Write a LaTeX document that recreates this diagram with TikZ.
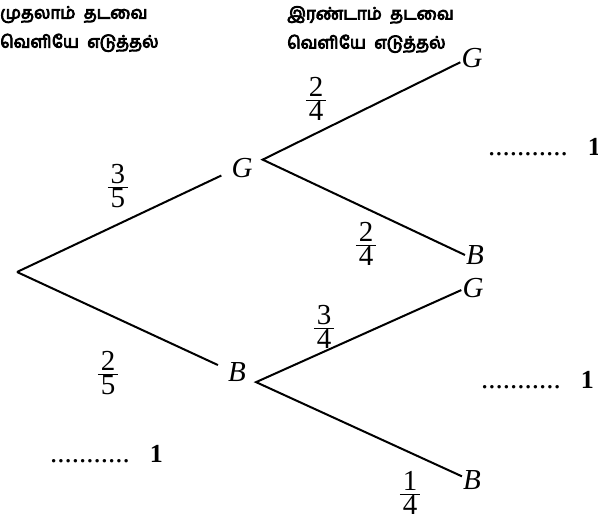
\documentclass[tikz,border=0pt]{standalone}
\usepackage{fontspec}
\setmainfont{Liberation Serif}
\newfontfamily\tamil[Script=Tamil,FakeBold=5]{Hind Madurai}
\newcommand\frc[2]{$\frac{\mbox{\kern3pt#1\kern3pt}}{\mbox{#2}}$}
\newcommand\blank{...........\hspace{20pt}{\fontsize{26}{30}\selectfont\textbf{1}}}
\begin{document}
\begin{tikzpicture}[x=1pt,y=-1pt,font=\fontsize{29}{34}\selectfont,
  branch/.style={line width=2pt},
  mid/.style={inner xsep=10pt,inner ysep=2pt},
  leaf/.style={inner sep=1pt},
  head/.style={font=\tamil\fontsize{17}{29}\selectfont,align=left,anchor=north west,inner sep=0pt}]
\useasboundingbox (0,0) rectangle (598,527);
\node[head] (h1) at (0,6) {முதலாம்\ \ தடவை\\வெளியே\ \ எடுத்தல்};
\node[head] (h2) at (287,6) {இரண்டாம்\ \ தடவை\\வெளியே\ \ எடுத்தல்};
\coordinate (root) at (17,272);
\node[mid] (G1) at (242,168) {\textit{G}};
\node[mid] (B1) at (237,372) {\textit{B}};
\node[leaf] (GG) at (472,58) {\textit{G}};
\node[leaf] (GB) at (475,255) {\textit{B}};
\node[leaf] (BG) at (473,288) {\textit{G}};
\node[leaf] (BB) at (472,480) {\textit{B}};
\draw[branch] (root) -- (G1.200);
\draw[branch] (root) -- (B1.160);
\draw[branch] (GG.200) -- (G1.22) -- (GB.west);
\draw[branch] (BG.190) -- (B1.-28) -- (BB.160);
\node (f1) at (118,186) {\frc{3}{5}};
\node (f2) at (108,373) {\frc{2}{5}};
\node (f3) at (316,99) {\frc{2}{4}};
\node (f4) at (366,244) {\frc{2}{4}};
\node (f5) at (324,327) {\frc{3}{4}};
\node (f6) at (410,493) {\frc{1}{4}};
\node[anchor=base west,inner sep=0pt] (a1) at (488,155) {\blank};
\node[anchor=base west,inner sep=0pt] (a2) at (481,388) {\blank};
\node[anchor=base west,inner sep=0pt] (a3) at (50,462) {\blank};
\end{tikzpicture}
\end{document}
